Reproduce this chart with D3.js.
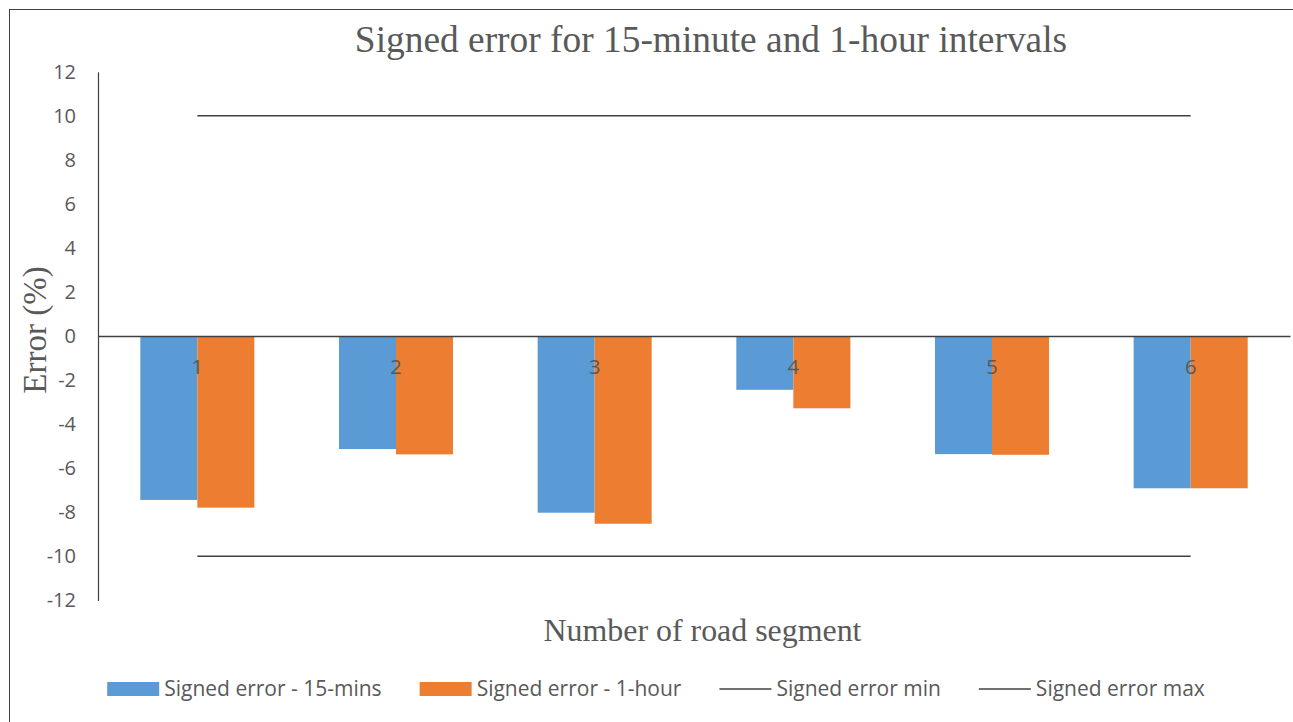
<!DOCTYPE html>
<html>
<head>
<meta charset="utf-8">
<script src="https://cdn.jsdelivr.net/npm/d3@7"></script>
<style>
  body { margin: 0; background: #fff; }
  svg { display: block; }
</style>
</head>
<body>
<div id="chart"></div>
<script>
// road segments on the x axis
var segments = ['1', '2', '3', '4', '5', '6'];
// signed error, %
var err15 = [-7.44, -5.13, -8.02, -2.44, -5.36, -6.91];
var err1h = [-7.79, -5.37, -8.52, -3.28, -5.39, -6.91];
// limit lines
var errMin = [-10, -10, -10, -10, -10, -10];
var errMax = [10, 10, 10, 10, 10, 10];
var yTicks = [-12, -10, -8, -6, -4, -2, 0, 2, 4, 6, 8, 10, 12];
var seriesNames = ['Signed error - 15-mins', 'Signed error - 1-hour', 'Signed error min', 'Signed error max'];

var width = 1293, height = 722;
var margin = {left: 98, right: 3, top: 71.7, bottom: 121.6};
var colors = ['#5b9bd5', '#ed7d31'];
var textColor = '#595959';
var lineColor = '#404040';
var sans = '"Open Sans", "DejaVu Sans", sans-serif';
var serif = '"Liberation Serif", "Times New Roman", serif';

var svg = d3.select('#chart').append('svg')
    .attr('width', width)
    .attr('height', height);

// outer chart border (only left and top are visible in the picture)
svg.append('rect')
    .attr('x', 9.5).attr('y', 9.5)
    .attr('width', 2000).attr('height', 2000)
    .attr('fill', 'none')
    .attr('stroke', lineColor)
    .attr('stroke-width', 1);

var x = d3.scaleBand()
    .domain(segments)
    .range([margin.left, width - margin.right])
    .paddingInner(0.426)
    .paddingOuter(0.213);

var xSub = d3.scaleBand()
    .domain([0, 1])
    .range([0, x.bandwidth()]);

var y = d3.scaleLinear()
    .domain([-12, 12])
    .range([height - margin.bottom, margin.top]);

// y axis (plain hyphen for negatives, like the original)
var yAxis = svg.append('g')
    .attr('transform', 'translate(' + margin.left + ',0)')
    .call(d3.axisLeft(y).tickValues(yTicks).tickFormat(function (d) { return String(d); })
        .tickSize(0).tickSizeOuter(0).tickPadding(22));
yAxis.select('.domain').attr('stroke', lineColor).attr('stroke-width', 1.2);
yAxis.selectAll('text')
    .style('font-family', sans)
    .style('font-size', '20px')
    .attr('fill', textColor);

// bars
var series = [err15, err1h];
series.forEach(function (vals, s) {
    svg.append('g').selectAll('rect')
        .data(vals)
        .enter()
        .append('rect')
        .attr('x', function (d, i) { return x(segments[i]) + xSub(s); })
        .attr('y', function (d) { return y(Math.max(0, d)); })
        .attr('width', xSub.bandwidth())
        .attr('height', function (d) { return Math.abs(y(d) - y(0)); })
        .attr('fill', colors[s]);
});

// x axis on the zero line, labels sit over the bars
var xAxis = svg.append('g')
    .attr('transform', 'translate(0,' + y(0) + ')')
    .call(d3.axisBottom(x).tickSize(0).tickSizeOuter(0).tickPadding(24));
xAxis.select('.domain').attr('stroke', lineColor).attr('stroke-width', 1.5);
xAxis.selectAll('text')
    .style('font-family', sans)
    .style('font-size', '20px')
    .attr('fill', textColor);

// min / max lines
var line = d3.line()
    .x(function (d, i) { return x(segments[i]) + x.bandwidth() / 2; })
    .y(function (d) { return y(d); });

[errMin, errMax].forEach(function (vals) {
    svg.append('path')
        .datum(vals)
        .attr('d', line)
        .attr('fill', 'none')
        .attr('stroke', lineColor)
        .attr('stroke-width', 1.5);
});

// titles
svg.append('text')
    .attr('x', 711).attr('y', 52)
    .attr('text-anchor', 'middle')
    .style('font-family', serif)
    .style('font-size', '37.4px')
    .attr('fill', textColor)
    .text('Signed error for 15-minute and 1-hour intervals');

svg.append('text')
    .attr('transform', 'translate(46,' + (y(0) - 6) + ') rotate(-90)')
    .attr('text-anchor', 'middle')
    .style('font-family', serif)
    .style('font-size', '33px')
    .attr('fill', textColor)
    .text('Error (%)');

svg.append('text')
    .attr('x', 702.5).attr('y', 641)
    .attr('text-anchor', 'middle')
    .style('font-family', serif)
    .style('font-size', '31.9px')
    .attr('fill', textColor)
    .text('Number of road segment');

// legend
var legend = svg.append('g');
var swW = 52, swGap = 5, itemGap = 38, legY = 689;
var items = legend.selectAll('g')
    .data(seriesNames)
    .enter()
    .append('g');

items.append('text')
    .attr('y', legY)
    .attr('dy', '0.35em')
    .style('font-family', sans)
    .style('font-size', '21px')
    .attr('fill', textColor)
    .text(function (d) { return d; });

var pos = 0;
items.each(function (d, i) {
    var g = d3.select(this);
    var tw = g.select('text').node().getComputedTextLength();
    if (i < 2) {
        g.append('rect')
            .attr('x', pos).attr('y', legY - 7)
            .attr('width', swW).attr('height', 14)
            .attr('fill', colors[i]);
    } else {
        g.append('line')
            .attr('x1', pos).attr('x2', pos + swW)
            .attr('y1', legY).attr('y2', legY)
            .attr('stroke', lineColor)
            .attr('stroke-width', 1.5);
    }
    g.select('text').attr('x', pos + swW + swGap);
    pos += swW + swGap + tw + itemGap;
});
var legW = pos - itemGap;
legend.attr('transform', 'translate(' + (656 - legW / 2) + ',0)');
</script>
</body>
</html>
